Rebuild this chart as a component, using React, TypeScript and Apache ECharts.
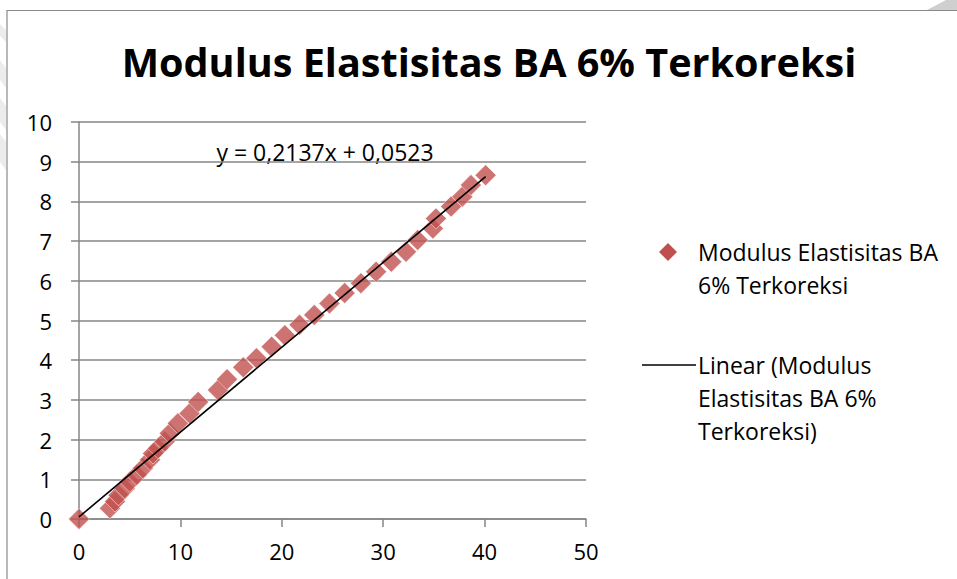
import React, { useEffect, useRef } from "react";
import * as echarts from "echarts";

// Measured points (strain-like x, stress-like y)
const xValues = [
  0, 3.05, 3.55, 3.9, 4.5, 5.0, 5.7, 6.3, 7.0, 7.3, 7.8, 8.45, 8.95, 9.75, 10.9,
  11.75, 13.7, 14.6, 16.2, 17.5, 19.0, 20.3, 21.75, 23.2, 24.7, 26.2, 27.8, 29.3,
  30.8, 32.25, 33.4, 34.9, 35.2, 36.7, 37.8, 38.65, 40.1,
];
const yValues = [
  0, 0.27, 0.44, 0.6, 0.77, 0.94, 1.11, 1.28, 1.49, 1.65, 1.78, 1.95, 2.16, 2.41,
  2.66, 2.95, 3.25, 3.52, 3.82, 4.05, 4.34, 4.63, 4.89, 5.14, 5.43, 5.69, 5.94,
  6.23, 6.48, 6.73, 7.03, 7.32, 7.57, 7.87, 8.12, 8.41, 8.66,
];

// Linear trendline coefficients
const slope = 0.2137;
const intercept = 0.0523;

const titleText = "Modulus Elastisitas BA 6% Terkoreksi";
const seriesName = "Modulus Elastisitas BA 6% Terkoreksi";
const trendName = "Linear (Modulus Elastisitas BA 6% Terkoreksi)";
const legendLines1 = ["Modulus Elastisitas BA", "6% Terkoreksi"];
const legendLines2 = ["Linear (Modulus", "Elastisitas BA 6%", "Terkoreksi)"];

const fmt = (v: number) => v.toFixed(4).replace(".", ",");

export default function App() {
  const ref = useRef<HTMLDivElement>(null);

  useEffect(() => {
    if (!ref.current) return;
    const chart = echarts.init(ref.current, undefined, { renderer: "svg" });

    const points = xValues.map((x, i) => [x, yValues[i]]);
    const xMin = Math.min(...xValues);
    const xMax = Math.max(...xValues);
    const trend = [
      [xMin, slope * xMin + intercept],
      [xMax, slope * xMax + intercept],
    ];

    const font = "'Open Sans', 'Noto Sans', sans-serif";
    const markerColor = "#C0504D";
    const axisColor = "#868686";
    const textSize = 23;
    const axisTextSize = 22;

    const legendText = (t: string, x: number, y: number) => ({
      type: "text",
      x,
      y,
      style: {
        text: t,
        fontFamily: font,
        fontSize: textSize,
        fill: "#000",
        align: "left",
        verticalAlign: "middle",
      },
    });

    chart.setOption({
      animation: false,
      backgroundColor: "#ffffff",
      grid: { left: 79, right: 371, top: 122, bottom: 60, containLabel: false },
      xAxis: {
        type: "value",
        min: 0,
        max: 50,
        interval: 10,
        axisLine: { show: true, lineStyle: { color: axisColor, width: 1.5 } },
        axisTick: { show: true, inside: false, length: 8, lineStyle: { color: axisColor, width: 1.5 } },
        splitLine: { show: false },
        axisLabel: { margin: 21, fontFamily: font, fontSize: axisTextSize, color: "#000" },
      },
      yAxis: {
        type: "value",
        min: 0,
        max: 10,
        interval: 1,
        axisLine: { show: true, lineStyle: { color: axisColor, width: 1.5 } },
        axisTick: { show: true, inside: false, length: 8, lineStyle: { color: axisColor, width: 1.5 } },
        splitLine: { show: true, lineStyle: { color: axisColor, width: 1.5 } },
        axisLabel: { margin: 27, fontFamily: font, fontSize: axisTextSize, color: "#000" },
      },
      series: [
        {
          name: seriesName,
          type: "scatter",
          data: points,
          symbol: "diamond",
          symbolSize: [21, 21],
          itemStyle: { color: markerColor, borderColor: "#ffffff", borderWidth: 0.6 },
          z: 2,
        },
        {
          name: trendName,
          type: "line",
          data: trend,
          showSymbol: false,
          symbol: "none",
          lineStyle: { color: "#000", width: 1.6 },
          z: 3,
        },
      ],
      graphic: [
        // frame of the chart area
        {
          type: "polyline",
          shape: { points: [[7, 579], [7, 10.5], [957, 10.5]] },
          style: { stroke: "#8a8a8a", lineWidth: 1.2, fill: null },
          silent: true,
        },
        // faint page shading on the edges
        {
          type: "polygon",
          shape: { points: [[927, 10], [946, 0], [957, 0], [957, 10]] },
          style: { fill: "#cfcfcf" },
          silent: true,
        },
        {
          type: "polygon",
          shape: { points: [[0, 24], [6, 30], [6, 42], [0, 36]] },
          style: { fill: "#ececec" },
          silent: true,
        },
        {
          type: "polygon",
          shape: { points: [[0, 60], [6, 68], [6, 88], [0, 80]] },
          style: { fill: "#ececec" },
          silent: true,
        },
        {
          type: "polygon",
          shape: { points: [[0, 98], [6, 106], [6, 130], [0, 122]] },
          style: { fill: "#ececec" },
          silent: true,
        },
        {
          type: "polygon",
          shape: { points: [[0, 134], [6, 142], [6, 170], [0, 162]] },
          style: { fill: "#ececec" },
          silent: true,
        },
        // chart title
        {
          type: "text",
          x: 489,
          y: 62,
          style: {
            text: titleText,
            fontFamily: font,
            fontWeight: "bold",
            fontSize: 39.6,
            fill: "#000",
            align: "center",
            verticalAlign: "middle",
          },
        },
        // trendline equation
        {
          type: "text",
          x: 325,
          y: 152,
          style: {
            text: `y = ${fmt(slope)}x + ${fmt(intercept)}`,
            fontFamily: font,
            fontSize: textSize,
            fill: "#000",
            align: "center",
            verticalAlign: "middle",
          },
        },
        // legend: markers
        {
          type: "polygon",
          shape: { points: [[668, 243], [677, 252], [668, 261], [659, 252]] },
          style: { fill: markerColor },
        },
        {
          type: "line",
          shape: { x1: 642, y1: 365, x2: 696, y2: 365 },
          style: { stroke: "#000", lineWidth: 1.6 },
        },
        // legend: texts
        ...legendLines1.map((t, i) => legendText(t, 698, 252 + i * 33)),
        ...legendLines2.map((t, i) => legendText(t, 698, 365 + i * 33)),
      ],
    });

    return () => chart.dispose();
  }, []);

  return (
    <div
      ref={ref}
      style={{ position: "absolute", left: 0, top: 0, width: 957, height: 579 }}
    />
  );
}
